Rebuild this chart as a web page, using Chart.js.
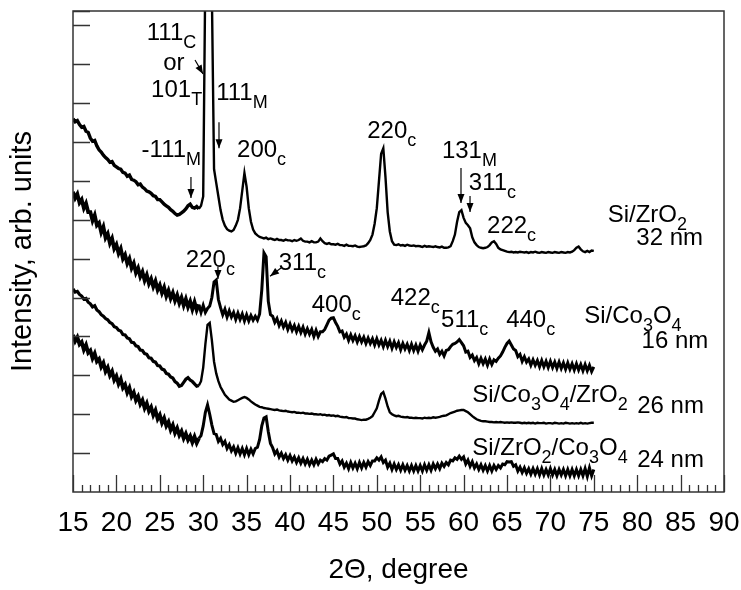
<!DOCTYPE html>
<html>
<head>
<meta charset="utf-8">
<script src="https://cdn.jsdelivr.net/npm/chart.js@4.4.0/dist/chart.umd.min.js"></script>
<style>
  html, body { margin: 0; padding: 0; background: #fff; }
  #wrap { width: 741px; height: 590px; }
</style>
</head>
<body>
<div id="wrap"><canvas id="xrd"></canvas></div>
<script>
// sampling of every pattern: 15..75 degrees, one point every 0.25 degree
const angleStart = 15;
const angleStep = 0.25;

// Si/ZrO2 32 nm
const zro2 = [
  9.60, 9.52, 9.55, 9.45,  9.38, 9.40, 9.28, 9.25,  9.10, 9.02, 9.04, 8.90,  8.80, 8.74, 8.66, 8.60,
  8.55, 8.48, 8.50, 8.40,  8.36, 8.32, 8.30, 8.22,  8.20, 8.12, 8.15, 8.04,  8.02, 7.98, 7.90, 7.92,
  7.84, 7.80, 7.74, 7.72,  7.68, 7.62, 7.60, 7.52,  7.52, 7.46, 7.40, 7.36,  7.32, 7.26, 7.22, 7.16,
  7.12, 7.14, 7.18, 7.22,  7.28, 7.36, 7.40, 7.32,  7.30, 7.34, 7.28, 7.36,  7.60, 13.5, 26.0, 26.0,
  12.8, 8.30, 7.95, 7.60,  7.25, 7.00, 6.85, 6.76,  6.72, 6.70, 6.74, 6.85,  7.00, 7.30, 7.75, 8.20,
  7.85, 7.30, 6.95, 6.75,  6.65, 6.60, 6.56, 6.54,  6.52, 6.54, 6.50, 6.52,  6.50, 6.48, 6.51, 6.48,
  6.48, 6.46, 6.49, 6.47,  6.47, 6.45, 6.48, 6.46,  6.48, 6.52, 6.46, 6.44,  6.44, 6.42, 6.45, 6.42,
  6.42, 6.44, 6.52, 6.45,  6.40, 6.38, 6.40, 6.37,  6.37, 6.36, 6.38, 6.35,  6.35, 6.33, 6.36, 6.33,
  6.33, 6.32, 6.34, 6.31,  6.30, 6.31, 6.32, 6.34,  6.40, 6.48, 6.62, 6.90,  7.30, 8.00, 8.70, 8.84,
  8.10, 7.20, 6.70, 6.45,  6.36, 6.35, 6.37, 6.34,  6.35, 6.33, 6.36, 6.34,  6.33, 6.34, 6.32, 6.33,
  6.32, 6.30, 6.33, 6.31,  6.32, 6.31, 6.30, 6.32,  6.30, 6.29, 6.31, 6.28,  6.28, 6.29, 6.32, 6.45,
  6.62, 6.95, 7.20, 7.25,  7.05, 6.92, 6.86, 6.78,  6.55, 6.42, 6.35, 6.30,  6.28, 6.27, 6.28, 6.30,
  6.35, 6.42, 6.45, 6.38,  6.28, 6.24, 6.22, 6.20,  6.18, 6.17, 6.18, 6.16,  6.17, 6.16, 6.18, 6.17,
  6.16, 6.17, 6.15, 6.17,  6.16, 6.18, 6.16, 6.15,  6.17, 6.16, 6.15, 6.17,  6.16, 6.15, 6.17, 6.16,
  6.15, 6.17, 6.16, 6.15,  6.17, 6.16, 6.18, 6.22,  6.28, 6.31, 6.24, 6.19,  6.17, 6.20, 6.17, 6.21,
  6.20
];

// Si/Co3O4 16 nm
const co3o4 = [
  7.72, 7.56, 7.66, 7.44,  7.52, 7.30, 7.42, 7.20,  7.20, 6.98, 7.12, 6.86,  6.92, 6.68, 6.82, 6.54,
  6.64, 6.40, 6.52, 6.26,  6.36, 6.14, 6.26, 6.00,  6.10, 5.88, 6.00, 5.76,  5.88, 5.64, 5.76, 5.54,
  5.66, 5.44, 5.58, 5.36,  5.48, 5.28, 5.42, 5.20,  5.32, 5.12, 5.26, 5.04,  5.18, 4.98, 5.12, 4.92,
  5.06, 4.86, 5.00, 4.80,  4.96, 4.76, 4.90, 4.70,  4.88, 4.68, 4.82, 4.62,  4.80, 4.62, 4.72, 4.78,
  5.00, 5.40, 5.45, 4.95,  4.74, 4.56, 4.70, 4.50,  4.66, 4.50, 4.62, 4.44,  4.60, 4.44, 4.58, 4.40,
  4.56, 4.40, 4.54, 4.42,  4.52, 4.42, 4.58, 5.20,  6.15, 6.05, 4.90, 4.56,  4.52, 4.36, 4.46, 4.28,
  4.40, 4.24, 4.36, 4.18,  4.32, 4.16, 4.28, 4.12,  4.26, 4.10, 4.24, 4.06,  4.20, 4.06, 4.18, 4.00,
  4.16, 4.00, 4.12, 4.12,  4.18, 4.30, 4.42, 4.47,  4.48, 4.36, 4.26, 4.12,  4.14, 3.98, 4.06, 3.90,
  4.04, 3.90, 4.02, 3.86,  4.00, 3.86, 3.98, 3.82,  3.96, 3.82, 3.94, 3.78,  3.94, 3.78, 3.90, 3.74,
  3.90, 3.74, 3.88, 3.70,  3.86, 3.72, 3.84, 3.66,  3.82, 3.68, 3.80, 3.64,  3.80, 3.64, 3.78, 3.62,
  3.78, 3.66, 3.78, 3.88,  4.10, 3.86, 3.72, 3.62,  3.68, 3.54, 3.62, 3.50,  3.64, 3.66, 3.74, 3.80,
  3.82, 3.86, 3.92, 3.84,  3.76, 3.60, 3.62, 3.46,  3.52, 3.38, 3.46, 3.30,  3.44, 3.30, 3.42, 3.26,
  3.42, 3.28, 3.40, 3.36,  3.44, 3.50, 3.60, 3.72,  3.82, 3.88, 3.78, 3.68,  3.64, 3.48, 3.54, 3.36,
  3.48, 3.34, 3.42, 3.26,  3.40, 3.26, 3.38, 3.22,  3.38, 3.22, 3.36, 3.20,  3.36, 3.20, 3.34, 3.18,
  3.34, 3.18, 3.32, 3.16,  3.32, 3.16, 3.30, 3.14,  3.30, 3.14, 3.28, 3.12,  3.28, 3.12, 3.26, 3.10,
  3.22
];

// Si/Co3O4/ZrO2 26 nm
const coZr = [
  5.22, 5.14, 5.16, 5.08,  5.04, 4.96, 4.98, 4.88,  4.84, 4.76, 4.79, 4.68,  4.64, 4.56, 4.52, 4.46,
  4.43, 4.36, 4.33, 4.25,  4.23, 4.16, 4.14, 4.05,  4.04, 3.96, 3.94, 3.85,  3.84, 3.76, 3.74, 3.65,
  3.64, 3.56, 3.54, 3.45,  3.44, 3.36, 3.34, 3.25,  3.24, 3.16, 3.14, 3.05,  3.03, 2.96, 2.93, 2.84,
  2.80, 2.72, 2.74, 2.82,  2.90, 2.94, 2.88, 2.84,  2.78, 2.72, 2.74, 2.85,  3.20, 3.80, 4.30, 4.35,
  3.90, 3.35, 3.05, 2.85,  2.70, 2.60, 2.50, 2.44,  2.38, 2.35, 2.32, 2.33,  2.36, 2.39, 2.42, 2.44,
  2.42, 2.38, 2.33, 2.29,  2.25, 2.22, 2.19, 2.18,  2.16, 2.15, 2.14, 2.13,  2.12, 2.11, 2.12, 2.10,
  2.09, 2.08, 2.09, 2.07,  2.06, 2.05, 2.06, 2.04,  2.04, 2.03, 2.04, 2.02,  2.02, 2.01, 2.02, 2.00,
  2.00, 1.99, 2.00, 1.98,  1.99, 1.97, 1.98, 1.96,  1.97, 1.95, 1.96, 1.94,  1.93, 1.92, 1.93, 1.90,
  1.90, 1.89, 1.89, 1.87,  1.86, 1.85, 1.86, 1.86,  1.88, 1.91, 1.95, 2.05,  2.15, 2.35, 2.52, 2.57,
  2.40, 2.20, 2.05, 2.00,  1.97, 1.95, 1.96, 1.94,  1.93, 1.92, 1.93, 1.91,  1.91, 1.90, 1.91, 1.90,
  1.90, 1.89, 1.91, 1.90,  1.91, 1.90, 1.92, 1.91,  1.92, 1.93, 1.95, 1.96,  1.97, 2.00, 2.03, 2.05,
  2.07, 2.09, 2.10, 2.11,  2.11, 2.08, 2.05, 2.00,  1.95, 1.91, 1.87, 1.85,  1.83, 1.82, 1.82, 1.81,
  1.80, 1.80, 1.79, 1.80,  1.79, 1.80, 1.79, 1.78,  1.79, 1.78, 1.79, 1.78,  1.78, 1.79, 1.78, 1.77,
  1.78, 1.77, 1.78, 1.77,  1.78, 1.76, 1.78, 1.77,  1.77, 1.78, 1.76, 1.77,  1.77, 1.76, 1.78, 1.77,
  1.76, 1.77, 1.76, 1.78,  1.77, 1.76, 1.77, 1.76,  1.77, 1.76, 1.78, 1.76,  1.77, 1.76, 1.77, 1.78,
  1.78
];

// Si/ZrO2/Co3O4 24 nm
const zrCo = [
  4.04, 3.88, 3.98, 3.80,  3.86, 3.66, 3.78, 3.58,  3.64, 3.44, 3.56, 3.36,  3.42, 3.22, 3.32, 3.10,
  3.20, 3.00, 3.10, 2.88,  2.98, 2.78, 2.90, 2.68,  2.76, 2.56, 2.68, 2.46,  2.56, 2.36, 2.46, 2.26,
  2.36, 2.16, 2.28, 2.08,  2.18, 1.98, 2.10, 1.88,  1.98, 1.78, 1.90, 1.70,  1.80, 1.60, 1.72, 1.52,
  1.64, 1.46, 1.56, 1.38,  1.50, 1.34, 1.44, 1.28,  1.42, 1.26, 1.38, 1.45,  1.70, 2.05, 2.24, 2.00,
  1.72, 1.50, 1.48, 1.30,  1.38, 1.22, 1.30, 1.12,  1.22, 1.06, 1.16, 1.00,  1.14, 0.98, 1.12, 0.96,
  1.12, 0.96, 1.10, 0.98,  1.12, 1.15, 1.35, 1.70,  1.90, 1.93, 1.55, 1.25,  1.14, 0.98, 1.06, 0.90,
  1.00, 0.86, 0.96, 0.82,  0.94, 0.80, 0.90, 0.76,  0.88, 0.74, 0.86, 0.72,  0.84, 0.70, 0.82, 0.70,
  0.84, 0.72, 0.82, 0.78,  0.86, 0.82, 0.92, 0.95,  0.98, 0.86, 0.86, 0.72,  0.80, 0.64, 0.74, 0.60,
  0.76, 0.62, 0.74, 0.60,  0.76, 0.62, 0.76, 0.64,  0.78, 0.68, 0.80, 0.80,  0.88, 0.82, 0.90, 0.76,
  0.82, 0.64, 0.74, 0.58,  0.72, 0.58, 0.70, 0.56,  0.70, 0.56, 0.68, 0.54,  0.68, 0.54, 0.68, 0.54,
  0.68, 0.54, 0.70, 0.56,  0.70, 0.56, 0.72, 0.60,  0.72, 0.60, 0.74, 0.66,  0.76, 0.70, 0.82, 0.80,
  0.88, 0.84, 0.92, 0.84,  0.90, 0.72, 0.82, 0.66,  0.78, 0.62, 0.72, 0.58,  0.70, 0.56, 0.68, 0.54,
  0.68, 0.54, 0.68, 0.58,  0.68, 0.62, 0.72, 0.70,  0.78, 0.77, 0.78, 0.66,  0.70, 0.54, 0.64, 0.50,
  0.62, 0.48, 0.60, 0.46,  0.60, 0.46, 0.60, 0.44,  0.60, 0.44, 0.58, 0.44,  0.60, 0.44, 0.58, 0.42,
  0.58, 0.44, 0.58, 0.42,  0.58, 0.42, 0.58, 0.42,  0.58, 0.42, 0.58, 0.42,  0.60, 0.40, 0.62, 0.42,
  0.58
];

const xTickLabels = [15, 20, 25, 30, 35, 40, 45, 50, 55, 60, 65, 70, 75, 80, 85, 90];

// peak / sample labels, anchored in data units; [text, isSubscript]
const labels = [
  { x: 23.5, y: 11.62, parts: [['111'], ['C', 1]] },
  { x: 25.4, y: 10.85, parts: [['or']] },
  { x: 24.0, y: 10.15, parts: [['101'], ['T', 1]] },
  { x: 31.5, y: 10.08, parts: [['111'], ['M', 1]] },
  { x: 22.9, y: 8.61, parts: [['-111'], ['M', 1]] },
  { x: 33.9, y: 8.61, parts: [['200'], ['c', 1]] },
  { x: 48.9, y: 9.10, parts: [['220'], ['c', 1]] },
  { x: 57.5, y: 8.59, parts: [['131'], ['M', 1]] },
  { x: 60.6, y: 7.76, parts: [['311'], ['c', 1]] },
  { x: 62.7, y: 6.66, parts: [['222'], ['c', 1]] },
  { x: 76.6, y: 6.94, parts: [['Si/ZrO'], ['2', 1]] },
  { x: 79.9, y: 6.35, parts: [['32 nm']] },
  { x: 28.0, y: 5.78, parts: [['220'], ['c', 1]] },
  { x: 38.7, y: 5.71, parts: [['311'], ['c', 1]] },
  { x: 42.5, y: 4.63, parts: [['400'], ['c', 1]] },
  { x: 51.6, y: 4.81, parts: [['422'], ['c', 1]] },
  { x: 57.4, y: 4.24, parts: [['511'], ['c', 1]] },
  { x: 64.9, y: 4.24, parts: [['440'], ['c', 1]] },
  { x: 73.9, y: 4.34, parts: [['Si/Co'], ['3', 1], ['O'], ['4', 1]] },
  { x: 80.5, y: 3.70, parts: [['16 nm']] },
  { x: 61.0, y: 2.31, parts: [['Si/Co'], ['3', 1], ['O'], ['4', 1], ['/ZrO'], ['2', 1]] },
  { x: 80.0, y: 2.03, parts: [['26 nm']] },
  { x: 61.0, y: 0.95, parts: [['Si/ZrO'], ['2', 1], ['/Co'], ['3', 1], ['O'], ['4', 1]] },
  { x: 80.0, y: 0.64, parts: [['24 nm']] }
];

// arrows: from (x1,y1) to tip (x2,y2), data units
const arrows = [
  [29.06, 11.11, 29.98, 10.75],
  [31.82, 9.51, 31.82, 8.84],
  [28.59, 8.10, 28.59, 7.56],
  [59.70, 8.33, 59.70, 7.43],
  [60.74, 7.61, 60.74, 7.20],
  [31.70, 5.80, 31.70, 5.48],
  [38.96, 5.76, 37.70, 5.55]
];

const FONT = "'Liberation Sans', Arial, sans-serif";

function points(values) {
  return values.map((v, i) => ({ x: angleStart + i * angleStep, y: v }));
}

// noisy low-angle part is drawn a bit heavier
function series(values, width, lowAngleWidth) {
  return {
    data: points(values),
    borderColor: '#000',
    borderWidth: width,
    pointRadius: 0,
    tension: 0,
    fill: false,
    segment: {
      borderWidth: c => c.p0.parsed.x < 29.5 ? lowAngleWidth : width
    }
  };
}

function drawRich(ctx, x, y, parts) {
  let cx = x;
  parts.forEach(p => {
    const sub = p[1] === 1;
    ctx.font = (sub ? '18px ' : '24px ') + FONT;
    ctx.fillText(p[0], cx, sub ? y + 8 : y);
    cx += ctx.measureText(p[0]).width;
  });
}

const frameAndNotes = {
  id: 'frameAndNotes',
  afterDraw(chart) {
    const ctx = chart.ctx;
    const xs = chart.scales.x;
    const ys = chart.scales.y;
    const a = chart.chartArea;
    ctx.save();
    ctx.strokeStyle = '#333';
    ctx.lineWidth = 1.5;
    ctx.strokeRect(a.left, a.top, a.right - a.left, a.bottom - a.top);

    // inward ticks
    ctx.beginPath();
    ys.ticks.forEach(t => {
      if (t.value <= 0) return;
      const py = Math.round(ys.getPixelForValue(t.value)) + 0.5;
      ctx.moveTo(a.left, py);
      ctx.lineTo(a.left + 17, py);
    });
    xs.ticks.forEach(t => {
      const px = Math.round(xs.getPixelForValue(t.value)) + 0.5;
      const len = xTickLabels.includes(t.value) ? 17 : 7;
      ctx.moveTo(px, a.bottom);
      ctx.lineTo(px, a.bottom - len);
    });
    ctx.lineWidth = 1.3;
    ctx.stroke();

    // labels
    ctx.fillStyle = '#000';
    ctx.textBaseline = 'alphabetic';
    labels.forEach(l => {
      drawRich(ctx, xs.getPixelForValue(l.x), ys.getPixelForValue(l.y), l.parts);
    });

    // arrows
    ctx.strokeStyle = '#000';
    ctx.fillStyle = '#000';
    ctx.lineWidth = 1.2;
    arrows.forEach(r => {
      const x1 = xs.getPixelForValue(r[0]), y1 = ys.getPixelForValue(r[1]);
      const x2 = xs.getPixelForValue(r[2]), y2 = ys.getPixelForValue(r[3]);
      const ang = Math.atan2(y2 - y1, x2 - x1);
      ctx.beginPath();
      ctx.moveTo(x1, y1);
      ctx.lineTo(x2, y2);
      ctx.stroke();
      ctx.beginPath();
      ctx.moveTo(x2, y2);
      ctx.lineTo(x2 - 9 * Math.cos(ang) + 3.5 * Math.sin(ang), y2 - 9 * Math.sin(ang) - 3.5 * Math.cos(ang));
      ctx.lineTo(x2 - 9 * Math.cos(ang) - 3.5 * Math.sin(ang), y2 - 9 * Math.sin(ang) + 3.5 * Math.cos(ang));
      ctx.closePath();
      ctx.fill();
    });
    ctx.restore();
  }
};

const ctx = document.getElementById('xrd').getContext('2d');
const xrdChart = new Chart(ctx, {
  type: 'line',
  data: {
    datasets: [
      series(zro2, 2.4, 3.4),
      series(co3o4, 3, 3.8),
      series(coZr, 2.4, 3.2),
      series(zrCo, 3, 3.8)
    ]
  },
  options: {
    responsive: true,
    maintainAspectRatio: false,
    animation: false,
    layout: { padding: { top: 11, right: 17, left: 0, bottom: 0 } },
    plugins: {
      legend: { display: false },
      tooltip: { enabled: false }
    },
    scales: {
      x: {
        type: 'linear',
        min: 15,
        max: 90,
        grid: { display: false, drawTicks: false },
        border: { display: false },
        ticks: {
          stepSize: 1,
          autoSkip: false,
          maxRotation: 0,
          padding: 14,
          color: '#000',
          font: { family: FONT, size: 28 },
          callback: v => xTickLabels.includes(v) ? String(v) : ''
        },
        title: {
          display: true,
          text: '2\u0398, degree',
          color: '#000',
          font: { family: FONT, size: 28 },
          padding: { top: 0, bottom: 3 }
        },
        afterFit: s => { s.height = 98; s.paddingLeft = 0; s.paddingRight = 0; }
      },
      y: {
        min: 0,
        max: 12.37,
        grid: { display: false, drawTicks: false },
        border: { display: false },
        ticks: { stepSize: 1, display: false },
        title: {
          display: true,
          text: 'Intensity, arb. units',
          color: '#000',
          font: { family: FONT, size: 29 },
          padding: { top: 6, bottom: 0 }
        },
        afterFit: s => { s.width = 73; s.paddingTop = 0; s.paddingBottom = 0; }
      }
    }
  },
  plugins: [frameAndNotes]
});
</script>
</body>
</html>
